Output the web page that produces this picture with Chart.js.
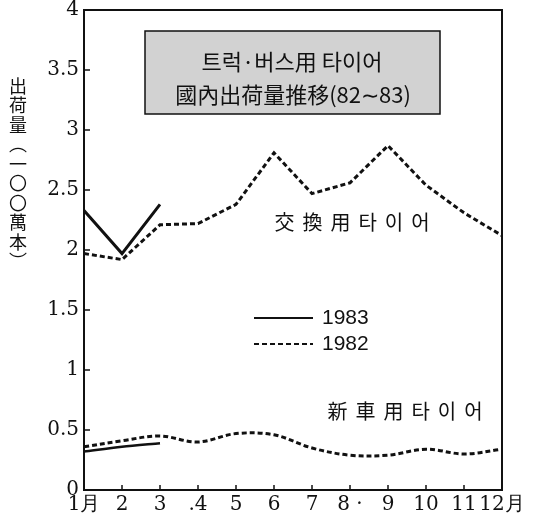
<!DOCTYPE html>
<html>
<head>
<meta charset="utf-8">
<script src="https://cdn.jsdelivr.net/npm/chart.js@4.4.1/dist/chart.umd.min.js"></script>
<style>
  html, body { margin: 0; padding: 0; background: #fff; }
  #wrap { width: 534px; height: 513px; }
</style>
</head>
<body>
<div id="wrap"><canvas id="chart" width="534" height="513"></canvas></div>
<script>
// ── Data (unit: 1,000,000 tyres) ───────────────────────────────────────────
const MONTHS = ["1月", "2", "3", ".4", "5", "6", "7", "8 ·", "9", "10", "11", "12月"];
const Y_TICKS = [0, 0.5, 1, 1.5, 2, 2.5, 3, 3.5, 4];

const REPL_1982 = [1.97, 1.92, 2.21, 2.22, 2.38, 2.81, 2.47, 2.56, 2.87, 2.54, 2.31, 2.12];
const REPL_1983 = [2.33, 1.97, 2.38, null, null, null, null, null, null, null, null, null];
const NEW_1982  = [0.36, 0.41, 0.45, 0.40, 0.47, 0.46, 0.35, 0.29, 0.29, 0.34, 0.30, 0.34];
const NEW_1983  = [0.32, 0.36, 0.39, null, null, null, null, null, null, null, null, null];

const TITLE_LINES = ["트럭·버스用 타이어", "國內出荷量推移(82∼83)"];
const Y_TITLE = ["出", "荷", "量", "︵", "一", "〇", "〇", "萬", "本", "︶"];
const LEGEND = [
  { label: "1983", dash: [] },
  { label: "1982", dash: [5, 3] },
];

// ── Styles ─────────────────────────────────────────────────────────────────
const INK = "#111";
const SERIF = "'DejaVu Serif', serif";
const CJK = "'Noto Sans CJK KR', 'Noto Sans CJK JP', sans-serif";
const DASH = [5, 3];

function spacedText(ctx, text, cx, cy, gap) {
  const widths = [...text].map(ch => ctx.measureText(ch).width);
  const total = widths.reduce((a, b) => a + b, 0) + gap * (widths.length - 1);
  let x = cx - total / 2;
  [...text].forEach((ch, i) => {
    ctx.fillText(ch, x + widths[i] / 2, cy);
    x += widths[i] + gap;
  });
}

// ── Decorations: frame, inward ticks, title box, labels, legend ───────────
const decorPlugin = {
  id: "decor",
  afterDatasetsDraw(chart) {
    const { ctx, chartArea: a, scales } = chart;
    ctx.save();
    ctx.strokeStyle = INK;
    ctx.fillStyle = INK;

    // frame
    ctx.lineWidth = 2;
    ctx.strokeRect(a.left, a.top, a.right - a.left, a.bottom - a.top);

    // inward tick marks
    ctx.lineWidth = 1.5;
    scales.y.ticks.forEach((t, i) => {
      const y = scales.y.getPixelForTick(i);
      ctx.beginPath(); ctx.moveTo(a.left, y); ctx.lineTo(a.left + 6, y); ctx.stroke();
    });
    scales.x.ticks.forEach((t, i) => {
      const x = scales.x.getPixelForTick(i);
      ctx.beginPath(); ctx.moveTo(x, a.bottom); ctx.lineTo(x, a.bottom - 5); ctx.stroke();
    });

    // title box
    ctx.fillStyle = "#d2d2d2";
    ctx.fillRect(145, 31, 295, 83);
    ctx.lineWidth = 1.5;
    ctx.strokeRect(145, 31, 295, 83);
    ctx.fillStyle = INK;
    ctx.textAlign = "center";
    ctx.textBaseline = "middle";
    ctx.font = "22px " + CJK;
    ctx.fillText(TITLE_LINES[0], 292, 62);
    ctx.fillText(TITLE_LINES[1], 293, 95);

    // y-axis title, stacked vertically
    ctx.font = "18px " + CJK;
    Y_TITLE.forEach((ch, i) => ctx.fillText(ch, 18, 86 + i * 19.5));

    // series annotations
    ctx.font = "20px " + CJK;
    spacedText(ctx, "交換用타이어", 352, 222, 8);
    spacedText(ctx, "新車用타이어", 405, 411, 8);

    // legend
    ctx.font = "21px 'Liberation Sans Narrow', 'Liberation Sans', sans-serif";
    ctx.textAlign = "left";
    LEGEND.forEach((item, i) => {
      const y = 318 + i * 26;
      ctx.lineWidth = 2;
      ctx.setLineDash(item.dash);
      ctx.beginPath(); ctx.moveTo(254, y); ctx.lineTo(313, y); ctx.stroke();
      ctx.setLineDash([]);
      ctx.fillText(item.label, 322, y);
    });
    ctx.restore();
  },
};

function lineSet(data, dashed, tension, width) {
  return {
    data,
    borderColor: INK,
    borderWidth: width,
    borderDash: dashed ? DASH : [],
    pointRadius: 0,
    tension,
    spanGaps: false,
  };
}

new Chart(document.getElementById("chart"), {
  type: "line",
  data: {
    labels: MONTHS,
    datasets: [
      lineSet(REPL_1982, true, 0, 3),
      lineSet(REPL_1983, false, 0, 3),
      lineSet(NEW_1982, true, 0.35, 3),
      lineSet(NEW_1983, false, 0.3, 2.5),
    ],
  },
  options: {
    responsive: false,
    animation: false,
    layout: { padding: { top: 10, right: 32, left: 0, bottom: 0 } },
    plugins: { legend: { display: false }, tooltip: { enabled: false } },
    scales: {
      x: {
        offset: false,
        grid: { display: false, drawTicks: false },
        border: { display: false },
        ticks: { color: INK, font: { family: SERIF, size: 20 }, padding: 3, autoSkip: false, maxRotation: 0 },
        afterFit: s => { s.height = 23; s.paddingLeft = 0; s.paddingRight = 0; },
      },
      y: {
        min: 0,
        max: 4,
        afterBuildTicks: s => { s.ticks = Y_TICKS.map(v => ({ value: v })); },
        grid: { display: false, drawTicks: false },
        border: { display: false },
        ticks: {
          color: INK,
          font: { family: SERIF, size: 20 },
          padding: 5,
          callback: v => String(v),
        },
        afterFit: s => { s.width = 84; s.paddingTop = 0; s.paddingBottom = 0; },
      },
    },
  },
  plugins: [decorPlugin],
});
</script>
</body>
</html>
